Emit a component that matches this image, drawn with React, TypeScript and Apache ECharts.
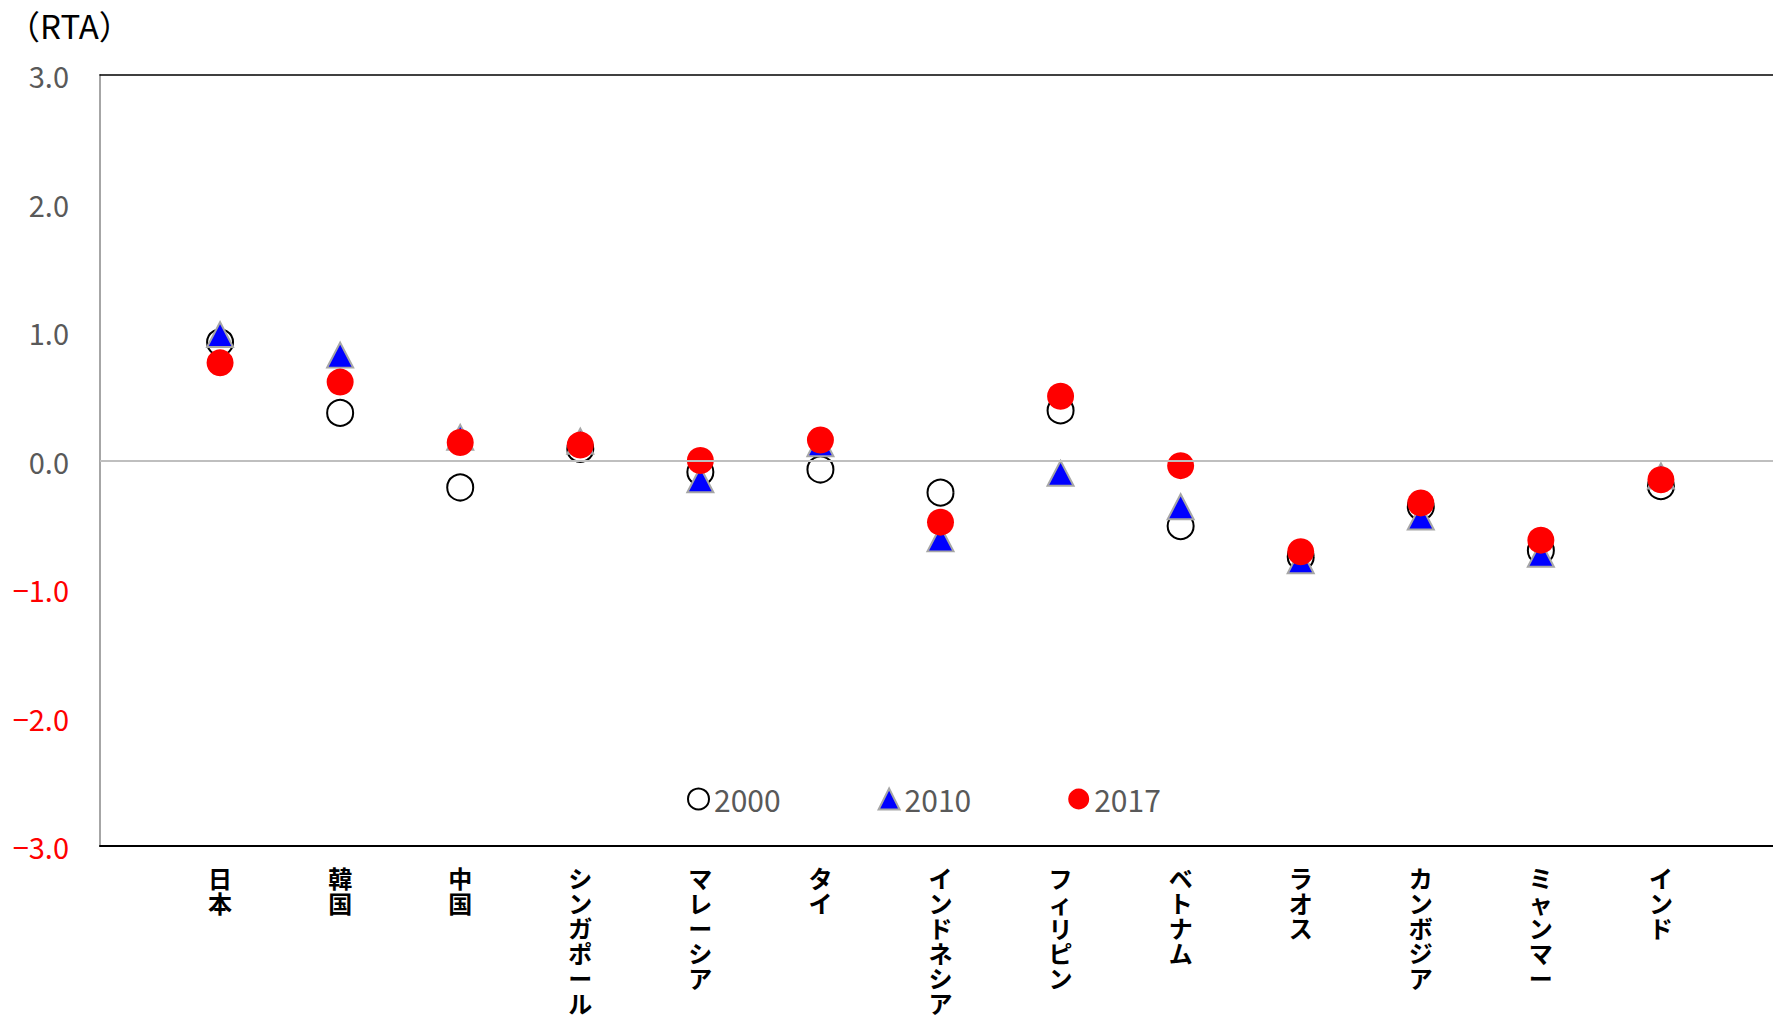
import React, { useEffect, useRef } from "react";
import * as echarts from "echarts";

const categories = ["日本", "韓国", "中国", "シンガポール", "マレーシア", "タイ", "インドネシア", "フィリピン", "ベトナム", "ラオス", "カンボジア", "ミャンマー", "インド"];
const seriesNames = ["2000", "2010", "2017"];
const rta2000 = [0.92, 0.37, -0.21, 0.09, -0.09, -0.07, -0.25, 0.39, -0.51, -0.75, -0.36, -0.7, -0.2];
const rta2010 = [0.98, 0.82, 0.18, 0.15, -0.15, 0.13, -0.61, -0.1, -0.36, -0.78, -0.44, -0.73, -0.12];
const rta2017 = [0.76, 0.61, 0.14, 0.12, 0.0, 0.16, -0.48, 0.5, -0.04, -0.71, -0.33, -0.62, -0.15];
const yMin = -3;
const yMax = 3;
const yInterval = 1;
const unitLabel = "（RTA）";

const FONT = "'Noto Sans CJK JP', 'Noto Sans', sans-serif";

export default function App() {
  const ref = useRef<HTMLDivElement>(null);
  useEffect(() => {
    if (!ref.current) return;
    const chart = echarts.init(ref.current, null, { renderer: "svg" });
    const axisData = ["", ...categories, " "];
    const toPoints = (arr: number[]) => arr.map((v, i) => [i + 1, v]);
    chart.setOption({
      animation: false,
      backgroundColor: "#ffffff",
      textStyle: { fontFamily: FONT },
      title: {
        text: unitLabel,
        left: 2,
        top: 3,
        textStyle: { fontSize: 33, fontWeight: "normal", color: "#000", fontFamily: FONT },
      },
      legend: {
        left: 682,
        top: 779,
        itemWidth: 21,
        itemHeight: 21,
        itemGap: 97,
        data: seriesNames,
        textStyle: { fontSize: 30, color: "#595959", fontFamily: FONT },
      },
      grid: { left: 100, right: 0, top: 75, bottom: 169, containLabel: false, outerBoundsMode: "none" },
      xAxis: [
        {
          type: "category",
          data: axisData,
          boundaryGap: false,
          position: "bottom",
          axisLine: { show: true, onZero: false, lineStyle: { color: "#000", width: 2 } },
          axisTick: { show: false },
          splitLine: { show: false },
          axisLabel: {
            interval: 0,
            margin: 19,
            color: "#000",
            fontWeight: "bold",
            fontSize: 24,
            lineHeight: 25,
            verticalAlign: "top",
            fontFamily: FONT,
            formatter: (v: string) => v.trim().split("").join("\n"),
          },
        },
        {
          type: "category",
          data: axisData,
          boundaryGap: false,
          position: "top",
          axisLine: { show: true, onZero: false, lineStyle: { color: "#000", width: 1.5 } },
          axisTick: { show: false },
          axisLabel: { show: false },
          splitLine: { show: false },
        },
      ],
      yAxis: {
        type: "value",
        min: yMin,
        max: yMax,
        interval: yInterval,
        axisLine: { show: true, lineStyle: { color: "#a6a6a6", width: 2 } },
        axisTick: { show: false },
        splitLine: { show: false },
        axisLabel: {
          margin: 31,
          fontSize: 29,
          fontFamily: FONT,
          color: (v: any) => (Number(v) < 0 ? "#ff0000" : "#595959"),
          formatter: (v: number) => (v < 0 ? "−" + Math.abs(v).toFixed(1) : v.toFixed(1)),
        },
      },
      series: [
        {
          name: seriesNames[0],
          type: "scatter",
          symbol: "circle",
          symbolSize: 26,
          itemStyle: { color: "rgba(255,255,255,0)", borderColor: "#000", borderWidth: 2, opacity: 1 },
          data: toPoints(rta2000),
          z: 2,
          markLine: {
            silent: true,
            symbol: "none",
            label: { show: false },
            lineStyle: { color: "#bfbfbf", width: 2, type: "solid" },
            data: [{ yAxis: 0 }],
          },
        },
        {
          name: seriesNames[1],
          type: "scatter",
          symbol: "triangle",
          symbolSize: [26, 25],
          itemStyle: { color: "#0000ff", borderColor: "#a6a6a6", borderWidth: 2, opacity: 1 },
          data: toPoints(rta2010),
          z: 3,
        },
        {
          name: seriesNames[2],
          type: "scatter",
          symbol: "circle",
          symbolSize: 27,
          itemStyle: { color: "#ff0000", opacity: 1 },
          data: toPoints(rta2017),
          z: 4,
        },
      ],
    });
    return () => chart.dispose();
  }, []);
  return (
    <div style={{ position: "fixed", left: 0, top: 0, width: 1773, height: 1015, overflow: "hidden", background: "#fff" }}>
      <div ref={ref} style={{ width: 1781, height: 1015 }} />
    </div>
  );
}
